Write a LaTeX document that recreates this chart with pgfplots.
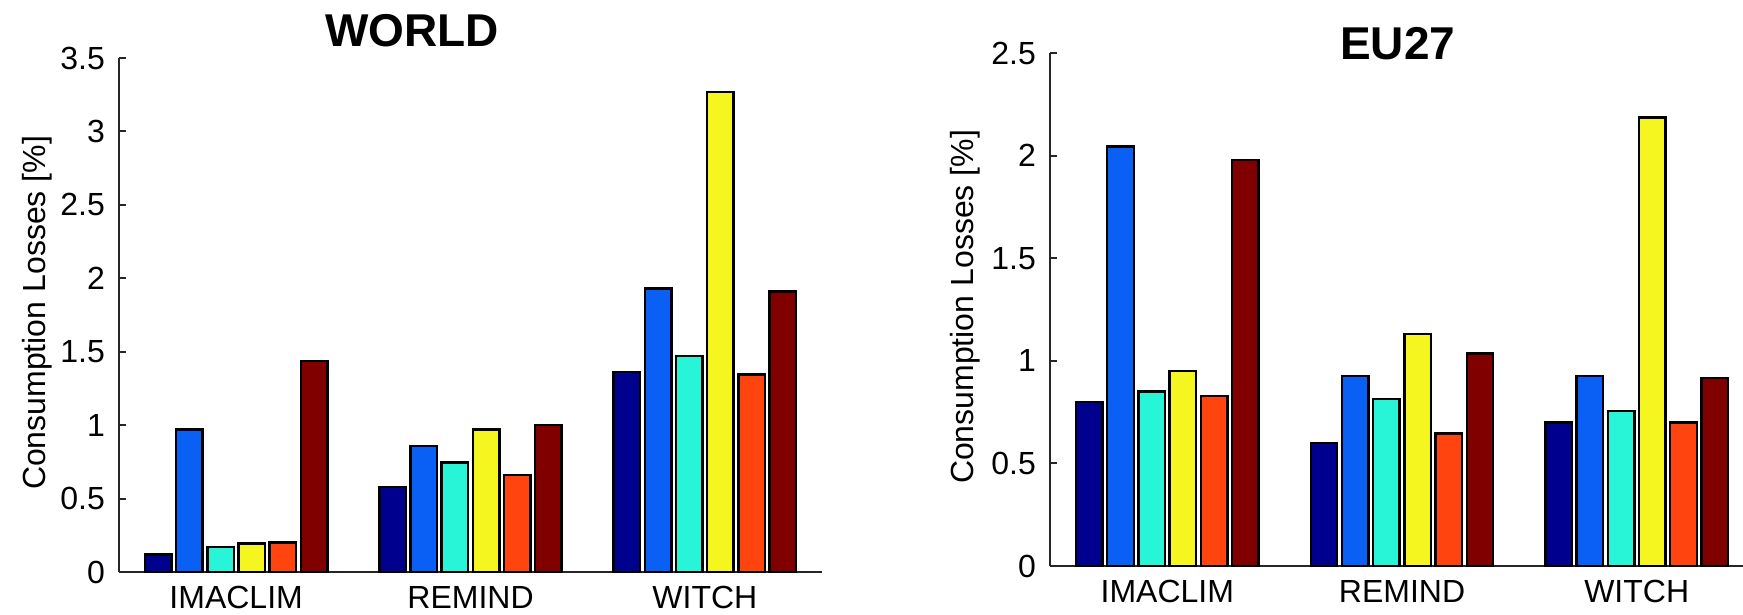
\documentclass[border=0pt]{standalone}
\usepackage{pgfplots}
\pgfplotsset{compat=1.18}
\usepackage{pgfplotstable}
\usepackage{fontspec}
\setmainfont{Liberation Sans}

\definecolor{c1}{HTML}{00008F}
\definecolor{c2}{HTML}{0A60F5}
\definecolor{c3}{HTML}{28F5D8}
\definecolor{c4}{HTML}{F5F520}
\definecolor{c5}{HTML}{FF4410}
\definecolor{c6}{HTML}{800000}

% columns: group index, then the six bars of each group
\pgfplotstableread{
x a b c d e f
1 0.12 0.97 0.17 0.195 0.20 1.435
2 0.58 0.86 0.745 0.97 0.66 1.00
3 1.36 1.93 1.47 3.27 1.345 1.91
}\world

\pgfplotstableread{
x a b c d e f
1 0.80 2.045 0.85 0.95 0.83 1.98
2 0.60 0.925 0.815 1.13 0.645 1.035
3 0.70 0.925 0.755 2.185 0.70 0.915
}\eu

\pgfplotsset{mybars/.style={
  scale only axis,
  axis lines=left,
  axis line style={-, black!85, line width=0.5pt},
  xmin=0.5, xmax=3.5, ymin=0,
  enlargelimits=false,
  xtick={1,2,3},
  xticklabels={IMACLIM,REMIND,WITCH},
  x tick style={draw=none},
  tick align=inside,
  major tick length=1.8pt,
  y tick style={black!85, line width=0.5pt},
  ticklabel style={font=\fontsize{8}{9.6}\selectfont},
  /pgf/number format/assume math mode=true,
  x tick label style={yshift=1.7pt},
  ybar,
  bar width=0.113,
  every axis plot/.append style={draw=black, line width=0.6pt},
  ylabel={Consumption Losses [\%]},
  label style={font=\fontsize{8}{9.6}\selectfont},
  every axis title shift=0pt,
  title style={font=\fontsize{11.5}{13.8}\selectfont\bfseries, anchor=center},
}}

\begin{document}
\begin{tikzpicture}
\useasboundingbox (0,0) rectangle (435.75pt,153.5pt);
\clip (0,0) rectangle (435.75pt,153.5pt);

\begin{axis}[mybars,
  at={(29.75pt,10.5pt)}, anchor=south west,
  width=175.75pt, height=128.5pt,
  ymax=3.5, ytick={0,0.5,...,3.5},
  title={WORLD},
  title style={at={(axis description cs:0.417,1)}, yshift=6.75pt},
  ylabel style={at={(axis description cs:-0.117,0.504)}, anchor=center},
]
\addplot[fill=c1, bar shift=-0.3325] table[x=x,y=a]{\world};
\addplot[fill=c2, bar shift=-0.1995] table[x=x,y=b]{\world};
\addplot[fill=c3, bar shift=-0.0665] table[x=x,y=c]{\world};
\addplot[fill=c4, bar shift=0.0665] table[x=x,y=d]{\world};
\addplot[fill=c5, bar shift=0.1995] table[x=x,y=e]{\world};
\addplot[fill=c6, bar shift=0.3325] table[x=x,y=f]{\world};
\end{axis}

\begin{axis}[mybars,
  at={(262.5pt,12pt)}, anchor=south west,
  width=176pt, height=128.25pt,
  ymax=2.5, ytick={0,0.5,...,2.5},
  title={EU27},
  title style={at={(axis description cs:0.494,1)}, yshift=2.25pt},
  ylabel style={at={(axis description cs:-0.12,0.505)}, anchor=center},
]
\addplot[fill=c1, bar shift=-0.3325] table[x=x,y=a]{\eu};
\addplot[fill=c2, bar shift=-0.1995] table[x=x,y=b]{\eu};
\addplot[fill=c3, bar shift=-0.0665] table[x=x,y=c]{\eu};
\addplot[fill=c4, bar shift=0.0665] table[x=x,y=d]{\eu};
\addplot[fill=c5, bar shift=0.1995] table[x=x,y=e]{\eu};
\addplot[fill=c6, bar shift=0.3325] table[x=x,y=f]{\eu};
\end{axis}
\end{tikzpicture}
\end{document}
